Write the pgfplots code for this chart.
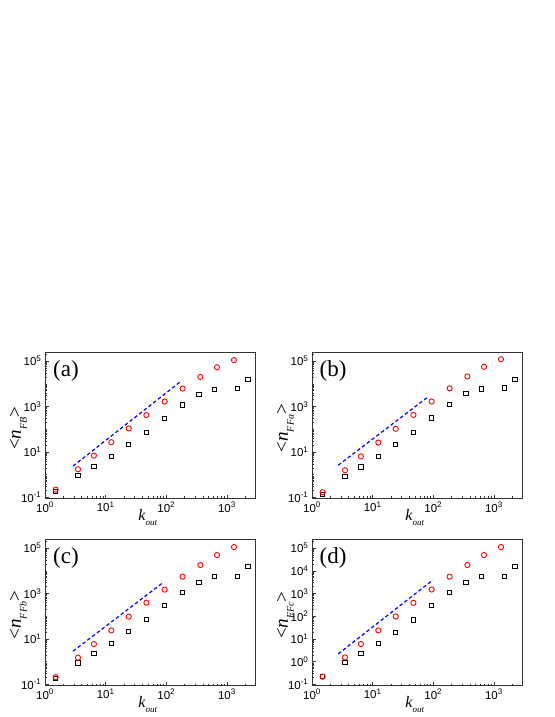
\documentclass[border=0pt]{standalone}
\usepackage{fontspec}
\setmainfont{Liberation Serif}
\newfontfamily\ticksans{Liberation Sans}
\usepackage{pgfplots}
\pgfplotsset{compat=1.18}

\pgfplotsset{
  every axis/.append style={
    scale only axis, width=210pt, height=146.5pt,
    xmin=1, xmax=2900, ymin=0.09, ymax=2.5e5,
    xtick={1,10,100,1000},
    xticklabels={10\textsuperscript{0},10\textsuperscript{1},10\textsuperscript{2},10\textsuperscript{3}},
    minor xtick={2,3,4,5,6,7,8,9,20,30,40,50,60,70,80,90,200,300,400,500,600,700,800,900,2000},
    minor ytick={0.2,0.3,0.4,0.5,0.6,0.7,0.8,0.9,1,2,3,4,5,6,7,8,9,20,30,40,50,60,70,80,90,100,200,300,400,500,600,700,800,900,2000,3000,4000,5000,6000,7000,8000,9000,10000,20000,30000,40000,50000,60000,70000,80000,90000,200000},
    tick align=inside, xtick pos=left, ytick pos=left,
    major tick length=4pt, minor tick length=2pt,
    tick style={black!80, line width=0.5pt},
    axis line style={black!80, line width=0.7pt},
    xlabel style={at={(axis description cs:0.49,-0.147)}, anchor=base, inner sep=0pt},
    ylabel style={at={(axis description cs:-0.115,0.48)}, anchor=base, inner sep=0pt},
  },
  every tick label/.append style={font=\ticksans\fontsize{11.5}{12}\selectfont},
  mysq/.style={only marks, mark=square, mark size=2.1pt, black, line width=0.9pt},
  myci/.style={only marks, mark=o, mark size=2.6pt, red, line width=0.9pt},
  mydash/.style={blue, line width=1.2pt, dash pattern=on 3.5pt off 2.5pt, no marks},
}
\newcommand{\kout}{\fontsize{16}{16}\selectfont\textit{k}\raisebox{-0.35em}{\fontsize{9}{9}\selectfont\textit{out}}}
\newcommand{\nlab}[1]{\fontsize{19}{19}\selectfont <\textit{n}\raisebox{-0.3em}{\fontsize{10}{10}\selectfont\textit{#1}}>}
\newcommand{\plab}[1]{\node[font=\fontsize{23}{23}\selectfont, inner sep=0pt] at (axis description cs:0.1,0.87) {#1};}

\begin{document}
\begin{tikzpicture}
\path[use as bounding box] (0,0) rectangle (554pt,717pt);

% (a)
\begin{loglogaxis}[at={(45pt,218.5pt)}, anchor=south west,
  ytick={0.1,10,1000,100000},
  yticklabels={10\textsuperscript{-1},10\textsuperscript{1},10\textsuperscript{3},10\textsuperscript{5}},
  xlabel={\kout}, ylabel={\nlab{FB}}]
\addplot[mysq] coordinates {(1.5,0.18) (3.5,0.92) (6.4,2.3) (12.4,6.5) (24,21) (47,73) (94,297) (186,1180) (346,3360) (620,5760) (1480,6160) (2220,15000)};
\addplot[myci] coordinates {(1.5,0.22) (3.5,1.74) (6.4,6.9) (12.4,27) (24,109) (47,420) (94,1660) (186,6160) (364,20000) (685,53000) (1305,110000)};
\addplot[mydash] coordinates {(2.9,2.4) (177,13300)};
\plab{(a)}
\end{loglogaxis}

% (b)
\begin{loglogaxis}[at={(312pt,218.5pt)}, anchor=south west,
  ytick={0.1,10,1000,100000},
  yticklabels={10\textsuperscript{-1},10\textsuperscript{1},10\textsuperscript{3},10\textsuperscript{5}},
  xlabel={\kout}, ylabel={\nlab{FFa}}]
\addplot[mysq] coordinates {(1.5,0.14) (3.5,0.83) (6.4,2.2) (12.4,6.4) (24,21) (47,75) (94,315) (186,1260) (346,3650) (620,5900) (1480,6500) (2220,16000)};
\addplot[myci] coordinates {(1.5,0.17) (3.5,1.58) (6.4,6.4) (12.4,26) (24,105) (47,427) (94,1660) (186,6300) (364,21000) (685,56000) (1305,120000)};
\addplot[mydash] coordinates {(2.7,2.6) (81,2600)};
\plab{(b)}
\end{loglogaxis}

% (c)
\begin{loglogaxis}[at={(45pt,31.5pt)}, anchor=south west,
  ytick={0.1,10,1000,100000},
  yticklabels={10\textsuperscript{-1},10\textsuperscript{1},10\textsuperscript{3},10\textsuperscript{5}},
  xlabel={\kout}, ylabel={\nlab{FFb}}]
\addplot[mysq] coordinates {(1.5,0.18) (3.5,0.89) (6.4,2.3) (12.4,6.5) (24,22) (47,71) (94,302) (186,1120) (346,3100) (620,5700) (1480,5700) (2220,15000)};
\addplot[myci] coordinates {(1.5,0.21) (3.5,1.5) (6.4,6.0) (12.4,24) (24,96) (47,395) (94,1480) (186,5500) (364,18000) (685,49000) (1305,110000)};
\addplot[mydash] coordinates {(2.9,2.9) (85,2800)};
\plab{(c)}
\end{loglogaxis}

% (d)
\begin{loglogaxis}[at={(312pt,31.5pt)}, anchor=south west,
  ytick={0.1,1,10,100,1000,10000,100000},
  yticklabels={10\textsuperscript{-1},10\textsuperscript{0},10\textsuperscript{1},10\textsuperscript{2},10\textsuperscript{3},10\textsuperscript{4},10\textsuperscript{5}},
  xlabel={\kout}, ylabel={\nlab{FFc}}]
\addplot[mysq] coordinates {(1.5,0.22) (3.5,0.93) (6.4,2.4) (12.4,6.5) (24,20) (47,69) (94,290) (186,1150) (346,3160) (620,5800) (1480,5800) (2220,15500)};
\addplot[myci] coordinates {(1.5,0.22) (3.5,1.55) (6.4,6.0) (12.4,24) (24,98) (47,390) (94,1500) (186,5500) (364,18000) (685,49000) (1305,110000)};
\addplot[mydash] coordinates {(2.7,2.2) (98,3900)};
\plab{(d)}
\end{loglogaxis}
\end{tikzpicture}
\end{document}
